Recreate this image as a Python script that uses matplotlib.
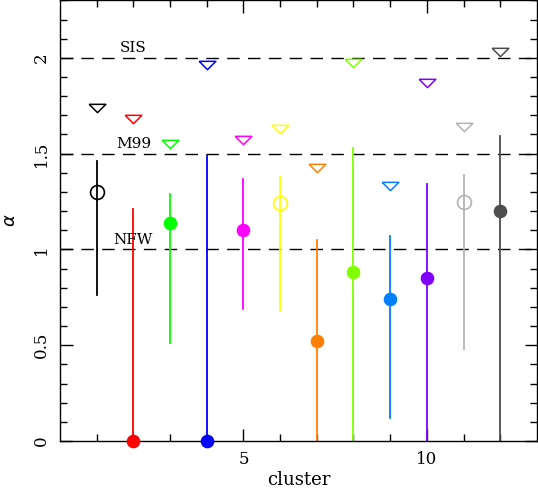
import matplotlib
matplotlib.use('Agg')
import matplotlib.pyplot as plt
import numpy as np

plt.rcParams['font.family'] = ['DejaVu Serif']

# data
cluster = [1, 2, 3, 4, 5, 6, 7, 8, 9, 10, 11, 12]
alpha = [1.30, 0.0, 1.14, 0.0, 1.10, 1.24, 0.52, 0.88, 0.74, 0.85, 1.25, 1.20]
err_lo = [0.76, 0.0, 0.51, 0.0, 0.69, 0.68, 0.0, 0.0, 0.12, 0.0, 0.48, 0.0]
err_hi = [1.46, 1.21, 1.29, 1.49, 1.37, 1.38, 1.05, 1.53, 1.07, 1.34, 1.39, 1.59]
upper = [1.74, 1.68, 1.55, 1.96, 1.57, 1.63, 1.425, 1.975, 1.33, 1.87, 1.64, 2.03]
filled = [False, True, True, True, True, False, True, True, True, True, False, True]
colors = ['#000000', '#ff0000', '#00ff00', '#0000ff', '#ff00ff', '#ffff00',
          '#ff8000', '#80ff00', '#0080ff', '#8000ff', '#b3b3b3', '#4d4d4d']

ref_vals = [2.0, 1.5, 1.0]
ref_names = ['SIS', 'M99', 'NFW']

fig = plt.figure(figsize=(5.38, 4.88), dpi=100)
ax = fig.add_axes([0.1115, 0.0963, 0.8865, 0.903])

for v, name in zip(ref_vals, ref_names):
    ax.axhline(v, color='black', lw=1.0, dashes=(9, 6), zorder=1)
    ax.text(2.0, v + 0.05, name, ha='center', va='center', fontsize=11)

tri = [(-1, 0.5), (1, 0.5), (0, -0.5), (-1, 0.5)]
for i in range(len(cluster)):
    c = colors[i]
    ax.plot([cluster[i], cluster[i]], [err_lo[i], err_hi[i]], color=c, lw=1.3, zorder=2)
    if filled[i]:
        ax.plot(cluster[i], alpha[i], 'o', color=c, ms=8.8, zorder=3, clip_on=False)
    else:
        ax.plot(cluster[i], alpha[i], 'o', mfc='none', mec=c, mew=1.2, ms=10, zorder=3)
    ax.plot(cluster[i], upper[i], marker=tri, mfc='none', mec=c, mew=1.1, ms=12,
            linestyle='none', zorder=3)

ax.set_xlim(0, 13)
ax.set_ylim(0, 2.3)
ax.set_xticks([5, 10])
ax.set_xticks(np.arange(1, 13), minor=True)
ax.set_yticks([0, 0.5, 1, 1.5, 2])
ax.set_yticklabels(['0', '0.5', '1', '1.5', '2'], rotation=90, va='center')
ax.set_yticks(np.arange(0, 2.31, 0.1), minor=True)
ax.tick_params(which='both', direction='in', top=True, right=True, labelsize=12)
ax.tick_params(which='major', length=9, width=1, pad=7)
ax.tick_params(which='minor', length=5, width=1)
for s in ax.spines.values():
    s.set_linewidth(1.0)

ax.set_xlabel('cluster', fontsize=13, labelpad=2)
ax.set_ylabel(r'$\alpha$', fontsize=13, labelpad=10)

fig.savefig('out.png', dpi=100)
